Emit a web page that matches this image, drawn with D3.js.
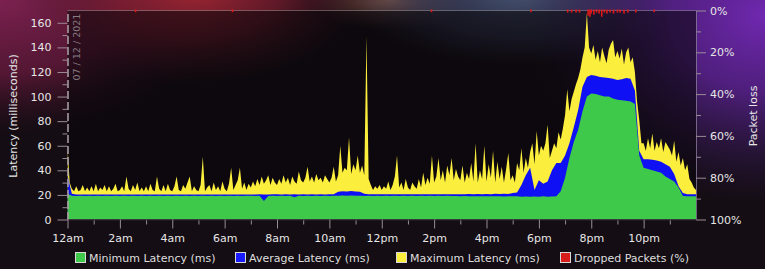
<!DOCTYPE html>
<html><head><meta charset="utf-8">
<script src="https://cdn.jsdelivr.net/npm/d3@7"></script>
<style>
html,body{margin:0;padding:0;background:#140d13;overflow:hidden}
svg{display:block;font-family:"DejaVu Sans",sans-serif}
</style></head><body>
<svg id="c" width="765" height="269"></svg>
<script>
// ---- data ----
const hourLabels = ["12am","2am","4am","6am","8am","10am","12pm","2pm","4pm","6pm","8pm","10pm"];
const labelHours = [0,2,4,6,8,10,12,14,16,18,20,22];
const latencyTicks = [0,20,40,60,80,100,120,140,160];
const lossTicks = [0,20,40,60,80,100];
const dateLabel = "07 / 12 / 2021";
const legendLabels = ["Minimum Latency (ms)","Average Latency (ms)","Maximum Latency (ms)","Dropped Packets (%)"];

// minimum latency, one value every 10 minutes (0:00 .. 24:00)
const minLatency = [
21,19.3,19.2,19.3,19.2,19.3, 19.2,19.3,19.2,19.3,19.2,19.3, 19.2,19.3,19.2,19.3,19.2,19.3,
19.2,19.3,19.2,19.3,19.2,19.3, 19.2,19.3,19.2,19.3,19.2,19.3, 19.2,19.3,19.2,19.3,19.2,19.3,
19.2,19.3,19.2,19.3,19.2,19.3, 19.3,19.2,19.3,15,19.2,19.3, 19.2,19.3,19.2,19.3,18,19.3,
19.2,19.3,19.2,19.3,19.2,19.3, 19.2,19.3,19.4,19.5,19.4,19.5, 19.4,19.3,19.2,19.3,19.2,19.3,
19.2,19.3,19.2,19.3,19.2,19.3, 19.2,19.3,19.2,19.3,19.2,19.3, 19.2,19.3,19.2,19.3,19.2,19.1,
19,19.1,19,18.9,19,19, 19,18.9,19,19,18.8,19, 19,18.9,18.5,18.8,18.5,18.8,
18.6,19,18.5,18.8,19,23, 34,50,63,73,88,100, 102.5,102,101,100,100,98.5,
97.5,97,96.5,96,94,52, 42,41,40,39,38,35, 33,31,26,19.2,19,19,
19];
// average latency, one value every 10 minutes
const avgLatency = [
36,21,20.4,20.3,20.4,20.3, 20.3,20.4,20.3,20.4,20.3,20.4, 20.3,20.4,20.3,20.4,20.3,20.4,
20.3,20.4,20.3,20.4,20.3,20.4, 20.3,20.4,20.3,20.4,20.3,20.4, 20.3,20.4,20.3,20.4,20.3,20.4,
20.3,20.4,20.3,20.4,20.3,20.4, 20.4,20.3,20.5,20.3,20.4,20.5, 20.5,20.4,20.5,20.4,20.5,20.4,
20.5,20.4,20.5,20.4,20.5,20.4, 20.5,20.6,22.5,23,22.8,23.2, 22.7,22.5,21,20.6,20.5,20.6,
20.6,20.5,20.6,20.5,20.6,20.5, 20.6,20.5,20.6,20.5,20.6,20.5, 20.6,20.5,20.6,20.5,20.6,20.5,
20.6,20.5,20.8,20.6,20.7,20.6, 20.8,20.6,20.9,20.7,21,20.8, 21.5,22,28,36,42,24,
32,29,31,40,46,46, 52,62,75,89,108,116, 117.5,117,116,115.5,115,114.5,
113.5,114,115,114.5,105,56, 49,49,48.5,48,47,45, 43,37,27,21.5,20.6,20.5,
20.5];
// maximum latency, one value every 5 minutes
const maxLatency = [
60,30,25,23,27,23,24,28,23,26,23,27,
23,29,23,26,24,28,23,27,23,25,29,23,
24,27,23,35,25,23,28,24,30,23,26,23,
27,23,29,24,23,35,25,23,28,23,29,24,
23,27,35,24,23,28,25,30,35,23,27,24,
23,28,51,23,26,28,23,30,24,27,23,31,
25,23,29,42,24,28,32,42,25,30,24,29,
26,31,27,33,28,35,29,32,36,28,34,30,
28,33,29,36,30,34,28,35,31,29,39,32,
30,34,43,31,35,30,37,32,34,30,36,33,
30,34,43,31,36,60,38,42,40,67,37,45,
40,52,38,44,36,149,33,28,24,27,25,28,
24,27,25,31,24,28,35,52,26,30,24,33,
26,24,30,27,25,33,26,38,28,34,29,52,
30,35,50,32,40,30,44,36,50,32,41,35,
32,44,30,38,33,46,31,62,30,40,33,60,
31,45,34,56,30,47,33,43,30,41,54,32,
36,30,46,40,58,38,50,42,55,62,45,72,
52,60,56,62,77,50,56,62,58,71,65,74,
85,106,88,98,104,110,115,122,132,140,168,140,
135,142,130,137,128,140,133,127,138,143,146,132,
137,131,139,126,136,140,128,132,120,96,81,62,
62,56,66,58,70,56,63,58,66,55,63,60,
57,52,64,47,55,44,50,40,45,33,30,26,
24];
// dropped packets: hour of day and percentage
const dropHours = [2.6,6.3,13.9,17.7,19.1,19.25,19.42,19.55,19.88,19.95,20.0,20.1,20.2,20.3,20.4,20.5,20.6,20.72,20.85,21.0,21.1,21.25,21.4,21.7,22.4];
const dropPct   = [0.8,0.8,0.8,0.8,1,1,1,1,2.5,3,1.5,2,1,1.5,3,1,1.5,1,1.5,1,1,1.5,1,1,0.8];

// ---- drawing ----
const W = 765, H = 269;
const svg = d3.select("#c");
const defs = svg.append("defs");

function radial(id, cx, cy, rx, ry, stops){
  const g = defs.append("radialGradient").attr("id", id)
    .attr("gradientUnits","userSpaceOnUse")
    .attr("cx", cx).attr("cy", cy).attr("r", rx)
    .attr("gradientTransform", `translate(${cx},${cy}) scale(1,${ry/rx}) translate(${-cx},${-cy})`);
  stops.forEach(s => g.append("stop").attr("offset", s[0]).attr("stop-color", s[1]).attr("stop-opacity", s[2]));
}
radial("gA", 0, 0, 230, 135, [[0,"#7c2150",1],[0.55,"#5e1838",0.85],[1,"#3a1025",0]]);
radial("gB", 195, -10, 170, 95, [[0,"#a02632",1],[0.5,"#801e30",0.7],[1,"#5a1828",0]]);
radial("gC", 390, 0, 80, 30, [[0,"#8a5a44",0.85],[1,"#6a3a3a",0]]);
radial("gD", 520, -5, 170, 70, [[0,"#44506e",1],[0.6,"#3a4060",0.6],[1,"#303a55",0]]);
radial("gE", 765, 15, 240, 190, [[0,"#7028b0",1],[0.4,"#5a2290",0.85],[1,"#301a50",0]]);

svg.append("rect").attr("width",W).attr("height",H).attr("fill","#140d13");
["gA","gB","gC","gD","gE"].forEach(id =>
  svg.append("rect").attr("width",W).attr("height",H).attr("fill",`url(#${id})`));

const x = d3.scaleLinear().domain([0,24]).range([67.5, 696]);
const y = d3.scaleLinear().domain([0,170]).range([219.5, 10.5]);
const loss = d3.scaleLinear().domain([0,100]).range([10.5, 219.5]);

// plot overlay
svg.append("rect").attr("x", x(0)).attr("y", y(170))
  .attr("width", x(24)-x(0)).attr("height", y(0)-y(170))
  .attr("fill","rgb(8,5,9)").attr("fill-opacity",0.55);

defs.append("clipPath").attr("id","clip").append("rect")
  .attr("x", x(0)).attr("y", 0).attr("width", x(24)-x(0)).attr("height", y(0));

const plot = svg.append("g").attr("clip-path","url(#clip)");
const areaFor = step => d3.area()
  .x((d,i) => x(i*step)).y0(y(0)).y1(d => y(d));

plot.append("path").datum(maxLatency).attr("d", areaFor(1/12)).attr("fill","#fbee3c");
plot.append("path").datum(avgLatency).attr("d", areaFor(1/6)).attr("fill","#1010f4");
plot.append("path").datum(minLatency).attr("d", areaFor(1/6)).attr("fill","#3ec94a");

// top border
svg.append("line").attr("x1",x(0)).attr("x2",x(24)).attr("y1",y(170)).attr("y2",y(170))
  .attr("stroke","#ffffff").attr("stroke-opacity",0.28);

// dropped packets
svg.append("g").selectAll("rect").data(dropHours).join("rect")
  .attr("x", d => x(d)-0.8).attr("width",1.6)
  .attr("y", loss(0)-1).attr("height", (d,i) => loss(dropPct[i]) - loss(0) + 1)
  .attr("fill","#e01818");

// axes
const axisColor = "#9a8c96";
function styleAxis(g, labelColor){
  g.selectAll(".tick line").attr("stroke", axisColor);
  g.selectAll(".tick text").attr("fill", labelColor).attr("font-size", 11)
   .attr("font-family","DejaVu Sans, sans-serif");
}
// left
const minorLat = d3.range(10,170,20);
const gLm = svg.append("g").attr("transform",`translate(${x(0)},0)`)
  .call(d3.axisLeft(y).tickValues(minorLat).tickSize(5).tickFormat(""));
gLm.select(".domain").remove(); styleAxis(gLm,"#e6e6e6");
const gL = svg.append("g").attr("transform",`translate(${x(0)},0)`)
  .call(d3.axisLeft(y).tickValues(latencyTicks).tickSize(10).tickSizeOuter(0).tickPadding(6));
gL.select(".domain").attr("stroke","#b0a4ac").attr("stroke-width",1.5).attr("stroke-dasharray","8,3");
styleAxis(gL,"#e6e6e6");
// right
const minorLoss = [10,30,50,70,90];
const gRm = svg.append("g").attr("transform",`translate(${x(24)},0)`)
  .call(d3.axisRight(loss).tickValues(minorLoss).tickSize(5).tickFormat(""));
gRm.select(".domain").remove(); styleAxis(gRm,"#e6e6e6");
const gR = svg.append("g").attr("transform",`translate(${x(24)},0)`)
  .call(d3.axisRight(loss).tickValues(lossTicks).tickSize(10).tickSizeOuter(0).tickPadding(4).tickFormat(d => d+"%"));
gR.select(".domain").attr("stroke","#8a7a98").attr("stroke-opacity",0.8);
styleAxis(gR,"#e6e6e6");
// bottom
const minorHours = d3.range(1,24,2);
const gBm = svg.append("g").attr("transform",`translate(0,${y(0)})`)
  .call(d3.axisBottom(x).tickValues(minorHours).tickSize(5).tickFormat(""));
gBm.select(".domain").remove(); styleAxis(gBm,"#e6e6e6");
const gB = svg.append("g").attr("transform",`translate(0,${y(0)})`)
  .call(d3.axisBottom(x).tickValues(labelHours).tickSize(9).tickSizeOuter(0).tickPadding(6)
    .tickFormat(h => hourLabels[labelHours.indexOf(h)]));
gB.select(".domain").attr("stroke","#2a2228");
styleAxis(gB,"#e6e6e6");

// titles
svg.append("text").attr("transform",`translate(17,${(y(0)+y(170))/2+1}) rotate(-90)`)
  .attr("text-anchor","middle").attr("fill","#e6e6e6").attr("font-size",11)
  .text("Latency (milliseconds)");
svg.append("text").attr("transform",`translate(757,${(loss(0)+loss(100))/2+1}) rotate(-90)`)
  .attr("text-anchor","middle").attr("fill","#e6e6e6").attr("font-size",11)
  .text("Packet loss");
svg.append("text").attr("transform",`translate(80,${y(170)+70}) rotate(-90)`)
  .attr("text-anchor","start").attr("fill","#8a7a82").attr("font-size",9.5)
  .text(dateLabel);

// legend
const legendColors = ["#3ec94a","#1a1aff","#fbee3c","#d81c1c"];
const legendX = [75, 235, 396, 560];
const lg = svg.append("g");
legendLabels.forEach((t,i) => {
  lg.append("rect").attr("x",legendX[i]+0.5).attr("y",252.5).attr("width",10).attr("height",10)
    .attr("fill",legendColors[i]).attr("stroke","#d8d8d8").attr("stroke-width",1);
  lg.append("text").attr("x",legendX[i]+14).attr("y",261.5).attr("fill","#dedede")
    .attr("font-size",11).text(t);
});
</script>
</body></html>
